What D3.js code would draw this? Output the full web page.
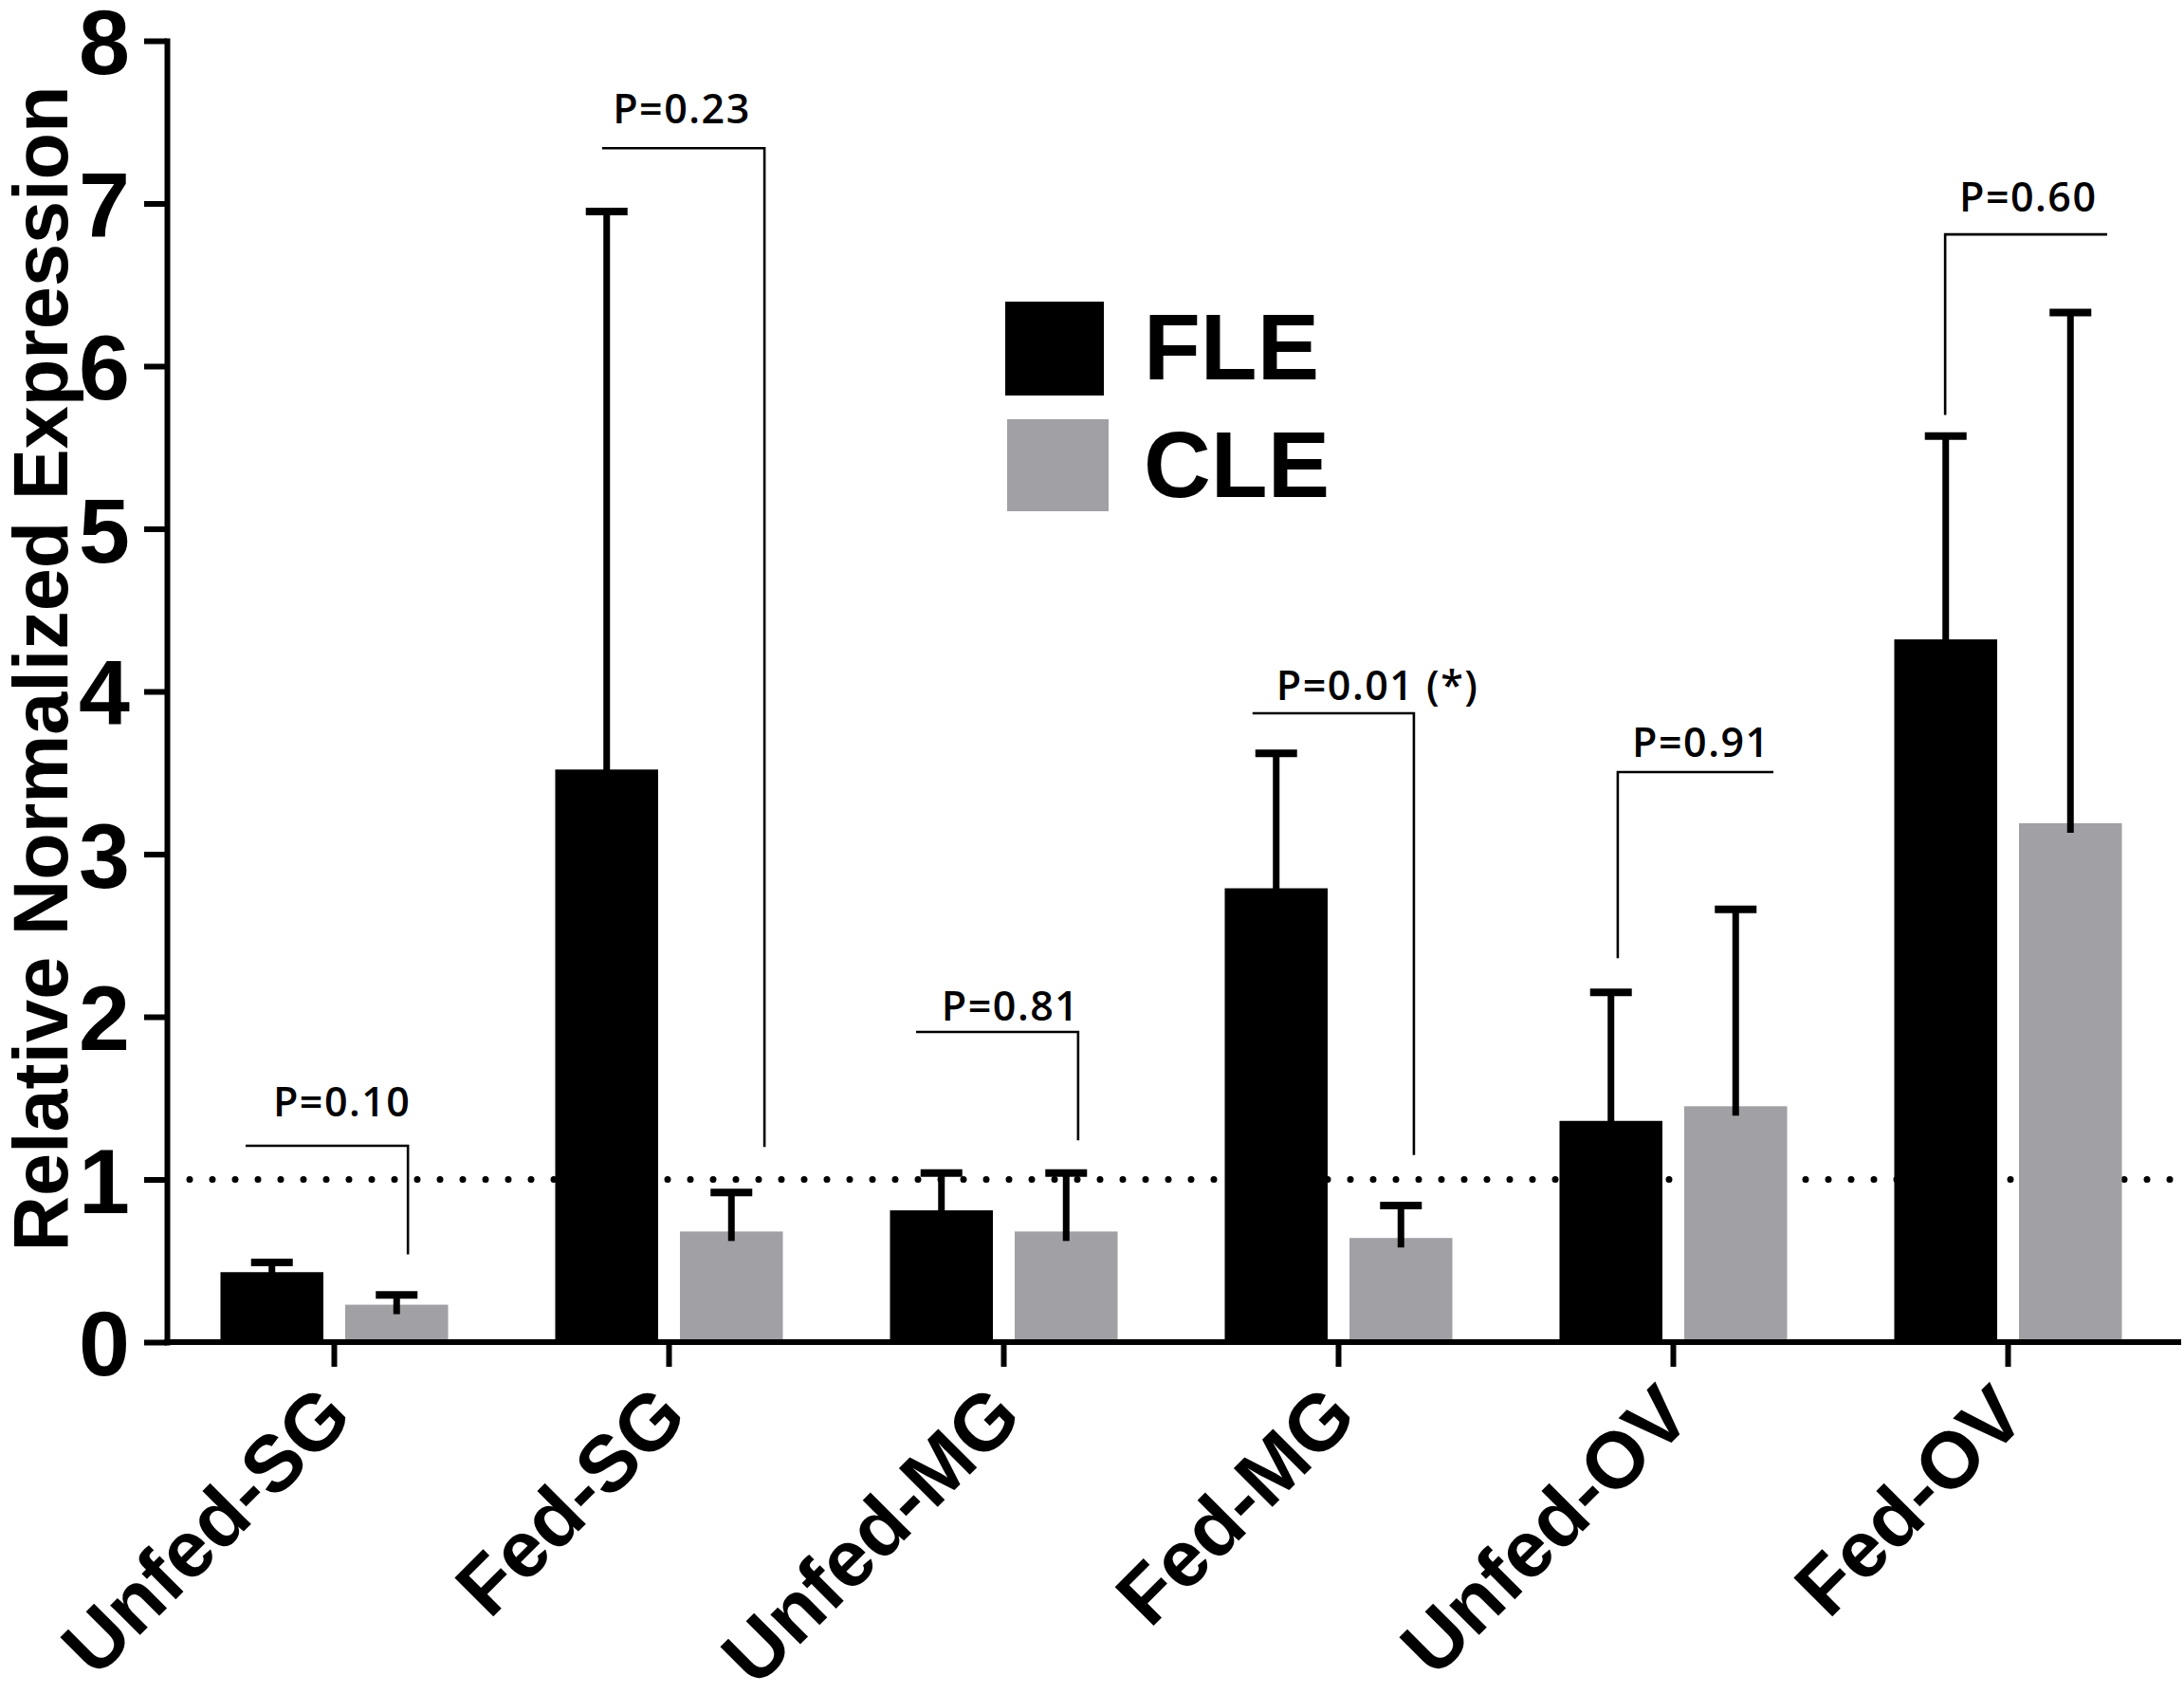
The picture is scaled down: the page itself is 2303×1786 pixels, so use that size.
<!DOCTYPE html>
<html>
<head>
<meta charset="utf-8">
<script src="https://cdn.jsdelivr.net/npm/d3@7"></script>
<style>
  body { margin: 0; background: #fff; }
  .axis path, .axis line { stroke: #000; stroke-width: 6; }
  .axis text { font-family: "Liberation Sans", Arial, sans-serif; font-weight: bold; fill: #000; }
  .plabel { font-family: "Open Sans", sans-serif; font-weight: 600; font-size: 43px; letter-spacing: 1.5px; }
</style>
</head>
<body>
<div class="chart"></div>
<script>
// values
const categories = ["Unfed-SG", "Fed-SG", "Unfed-MG", "Fed-MG", "Unfed-OV", "Fed-OV"];
const series = ["FLE", "CLE"];
const fleMean = [0.43, 3.52, 0.81, 2.79, 1.36, 4.32];
const fleErr  = [0.06, 3.43, 0.23, 0.83, 0.79, 1.25];
const cleMean = [0.23, 0.68, 0.68, 0.64, 1.45, 3.19];
const cleErr  = [0.06, 0.24, 0.36, 0.20, 1.21, 3.14];
const yTicks = [0, 1, 2, 3, 4, 5, 6, 7, 8];
const refLevel = 1;

// p-value brackets (x in category units, 0..6; y in data units)
const pLabels      = ["P=0.10", "P=0.23", "P=0.81", "P=0.01 (*)", "P=0.91", "P=0.60"];
const bracketFrom  = [0.235, 1.300, 2.238, 3.243, 4.334, 5.312];
const bracketTo    = [0.720, 1.785, 2.722, 3.725, 4.799, 5.796];
const bracketLevel = [1.207, 7.34, 1.907, 3.866, 3.504, 6.81];
const dropSide     = ["right", "right", "right", "right", "left", "left"];
const dropTo       = [0.54, 1.20, 1.24, 1.15, 2.36, 5.70];
const labelAt      = [0.317, 1.332, 2.314, 3.314, 4.377, 5.354];
const labelLevel   = [1.39, 7.49, 1.977, 3.948, 3.598, 6.95];

window.onload = function() {
  const W = 2303, H = 1786;
  const left = 176, right = 2294, top = 43, bottom = 1415;

  const svg = d3.select(".chart").append("svg")
    .attr("width", W)
    .attr("height", H);

  const x0 = d3.scaleBand()
    .domain(categories)
    .range([left, right])
    .padding(0);

  const bw = x0.bandwidth();
  const x1 = d3.scaleBand()
    .domain(series)
    .range([bw * 0.16, bw * 0.84])
    .paddingInner(0.175);

  const xPos = d3.scaleLinear().domain([0, categories.length]).range([left, right]);

  const y = d3.scaleLinear()
    .domain([0, 8])
    .range([bottom, top]);

  const color = d3.scaleOrdinal().domain(series).range(["#000000", "#a1a1a5"]);

  const rows = categories.map((c, i) => ({
    cat: c,
    vals: [
      { s: "FLE", mean: fleMean[i], err: fleErr[i] },
      { s: "CLE", mean: cleMean[i], err: cleErr[i] }
    ]
  }));

  // dotted reference line at 1
  svg.append("line")
    .attr("x1", left + 24).attr("x2", W)
    .attr("y1", y(refLevel)).attr("y2", y(refLevel))
    .attr("stroke", "#000")
    .attr("stroke-width", 7)
    .attr("stroke-linecap", "round")
    .attr("stroke-dasharray", "0,24");

  const groups = svg.selectAll(".grp")
    .data(rows)
    .enter().append("g")
    .attr("class", "grp")
    .attr("transform", d => "translate(" + x0(d.cat) + ",0)");

  groups.selectAll("rect")
    .data(d => d.vals)
    .enter().append("rect")
    .attr("x", d => x1(d.s))
    .attr("y", d => y(d.mean))
    .attr("width", x1.bandwidth())
    .attr("height", d => y(0) - y(d.mean))
    .attr("fill", d => color(d.s));

  // error bars (upper only, stem dips a little into the bar)
  groups.selectAll(".stem")
    .data(d => d.vals)
    .enter().append("line")
    .attr("class", "stem")
    .attr("x1", d => x1(d.s) + x1.bandwidth() / 2)
    .attr("x2", d => x1(d.s) + x1.bandwidth() / 2)
    .attr("y1", d => y(d.mean) + 10)
    .attr("y2", d => y(d.mean + d.err))
    .attr("stroke", "#000")
    .attr("stroke-width", 7);

  groups.selectAll(".cap")
    .data(d => d.vals)
    .enter().append("line")
    .attr("class", "cap")
    .attr("x1", d => x1(d.s) + x1.bandwidth() / 2 - 22)
    .attr("x2", d => x1(d.s) + x1.bandwidth() / 2 + 22)
    .attr("y1", d => y(d.mean + d.err))
    .attr("y2", d => y(d.mean + d.err))
    .attr("stroke", "#000")
    .attr("stroke-width", 8);

  // brackets
  const brackets = pLabels.map((p, i) => ({
    p: p, from: bracketFrom[i], to: bracketTo[i], level: bracketLevel[i],
    side: dropSide[i], drop: dropTo[i], lx: labelAt[i], ly: labelLevel[i]
  }));

  svg.selectAll(".bracket")
    .data(brackets)
    .enter().append("path")
    .attr("class", "bracket")
    .attr("fill", "none")
    .attr("stroke", "#000")
    .attr("stroke-width", 2.6)
    .attr("d", d => {
      const xa = xPos(d.from), xb = xPos(d.to), yl = y(d.level), yd = y(d.drop);
      if (d.side === "right") return "M" + xa + "," + yl + "H" + xb + "V" + yd;
      return "M" + xb + "," + yl + "H" + xa + "V" + yd;
    });

  svg.selectAll(".plabel")
    .data(brackets)
    .enter().append("text")
    .attr("class", "plabel")
    .attr("x", d => xPos(d.lx))
    .attr("y", d => y(d.ly))
    .text(d => d.p);

  // y axis
  svg.append("g")
    .attr("class", "axis")
    .attr("transform", "translate(" + left + ",0)")
    .call(d3.axisLeft(y).tickValues(yTicks).tickSize(24).tickSizeOuter(0).tickPadding(15))
    .call(g => g.select(".domain").attr("stroke-linecap", "square"))
    .call(g => g.selectAll("text").attr("font-size", 97).attr("dy", "0.36em"));

  // x axis
  const xAxis = svg.append("g")
    .attr("class", "axis")
    .attr("transform", "translate(0," + bottom + ")")
    .call(d3.axisBottom(x0).tickSize(26).tickSizeOuter(0));

  xAxis.select(".domain").remove();
  xAxis.append("line")
    .attr("x1", left - 3).attr("x2", W - 3)
    .attr("y1", 0).attr("y2", 0)
    .attr("stroke", "#000").attr("stroke-width", 6);

  xAxis.selectAll("text")
    .attr("font-size", 84)
    .attr("text-anchor", "end")
    .attr("x", 0).attr("y", 0).attr("dy", 0)
    .attr("transform", "translate(22,82) rotate(-45)");

  // y title
  svg.append("text")
    .attr("transform", "translate(71," + ((81 + 1329) / 2) + ") rotate(-90)")
    .attr("text-anchor", "middle")
    .attr("font-family", "Liberation Sans, Arial, sans-serif")
    .attr("font-weight", "bold")
    .attr("font-size", 81)
    .text("Relative Normalized Expression");

  // legend
  const legend = svg.append("g").attr("transform", "translate(1060,318)");
  const item = legend.selectAll(".item")
    .data(series)
    .enter().append("g")
    .attr("class", "item")
    .attr("transform", (d, i) => "translate(0," + i * 124 + ")");

  item.append("rect")
    .attr("x", (d, i) => i * 2)
    .attr("width", (d, i) => 104 + i * 3)
    .attr("height", (d, i) => 99 - i * 2)
    .attr("fill", d => color(d));

  item.append("text")
    .attr("x", 146)
    .attr("y", 82)
    .attr("font-family", "Liberation Sans, Arial, sans-serif")
    .attr("font-weight", "bold")
    .attr("font-size", 98)
    .text(d => d);
};
</script>
</body>
</html>
